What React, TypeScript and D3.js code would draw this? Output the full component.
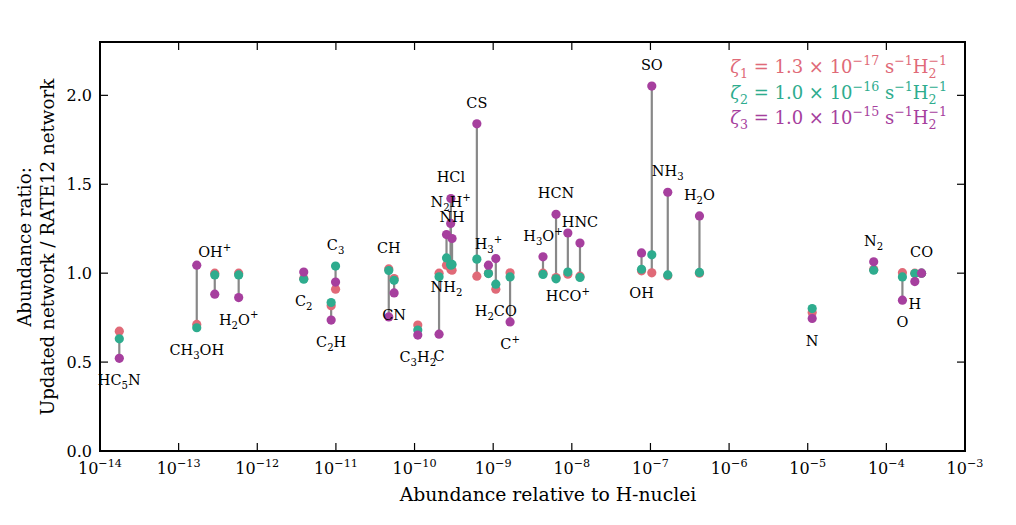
import React from 'react';
import * as d3 from 'd3';

// Species (sub/superscripts written as _x / ^x)
const speciesNames = [
  'HC_5N', 'CH_3OH', 'OH^+', 'H_2O^+', 'C_2', 'C_2H', 'C_3', 'CH', 'CN', 'C_3H_2',
  'C', 'NH_2', 'N_2H^+', 'HCl', 'NH', 'CS', 'H_3^+', 'H_2CO', 'C^+', 'H_3O^+',
  'HCN', 'HCO^+', 'HNC', 'OH', 'SO', 'NH_3', 'H_2O', 'N', 'N_2', 'O', 'H', 'CO',
];

// Abundance relative to H-nuclei
const abundances = [
  1.76e-14, 1.7e-13, 2.88e-13, 5.8e-13, 3.9e-12, 8.7e-12, 9.9e-12, 4.7e-11, 5.5e-11, 1.1e-10,
  2.05e-10, 2.55e-10, 2.88e-10, 2.9e-10, 3.0e-10, 6.2e-10, 8.7e-10, 1.08e-9, 1.64e-9, 4.3e-9,
  6.3e-9, 8.9e-9, 1.27e-8, 7.7e-8, 1.04e-7, 1.66e-7, 4.2e-7, 1.14e-5, 6.9e-5, 1.6e-4, 2.3e-4, 2.8e-4,
];

// Abundance ratio (updated / RATE12) for each ionisation rate
const ratioZeta1 = [
  0.674, 0.712, 1.0, 1.0, 0.97, 0.817, 0.91, 1.024, 0.97, 0.708,
  1.0, 1.045, 1.03, 1.02, 1.017, 0.983, 1.0, 0.91, 1.002, 1.0,
  0.975, 0.994, 0.983, 1.013, 1.002, 0.985, 1.0, 0.779, 1.02, 1.003, 1.0, 1.0,
];
const ratioZeta2 = [
  0.631, 0.693, 0.99, 0.99, 0.966, 0.835, 1.04, 1.015, 0.96, 0.68,
  0.98, 1.086, 1.05, 1.045, 1.049, 1.079, 0.998, 0.938, 0.979, 0.993,
  0.968, 1.006, 0.976, 1.022, 1.103, 0.99, 1.004, 0.801, 1.017, 0.979, 0.998, 1.0,
];
const ratioZeta3 = [
  0.521, 1.045, 0.882, 0.863, 1.006, 0.736, 0.95, 0.754, 0.889, 0.652,
  0.657, 1.217, 1.28, 1.42, 1.195, 1.84, 1.045, 1.082, 0.726, 1.092,
  1.331, 1.226, 1.169, 1.114, 2.052, 1.455, 1.322, 0.745, 1.064, 0.848, 0.953, 1.0,
];

// Which side of its column each species name sits on
const labelSides = [
  'below', 'below', 'above', 'below', 'below', 'below', 'above', 'above', 'below', 'below',
  'below', 'below', 'above', 'above', 'above', 'above', 'above', 'below', 'below', 'above',
  'above', 'below', 'above', 'below', 'above', 'above', 'above', 'below', 'above', 'below', 'below', 'above',
];

const yTicks = [0, 0.5, 1.0, 1.5, 2.0];
const xTickExponents = [-14, -13, -12, -11, -10, -9, -8, -7, -6, -5, -4, -3];

const legendRates = ['1.3', '1.0', '1.0'];
const legendExponents = ['−17', '−16', '−15'];

const COLORS = ['#e06a78', '#2eac8e', '#a63f9e'];
const FONT = '"DejaVu Serif", serif';

const W = 1016;
const H = 525;
const plot = { left: 100, right: 965, top: 42, bottom: 451 };

const x = d3.scaleLog().domain([1e-14, 1e-3]).range([plot.left, plot.right]);
const y = d3.scaleLinear().domain([0, 2.3]).range([plot.bottom, plot.top]);

// Turn "H_2O^+" style markup into tspans; stack a superscript over a preceding subscript if asked
function rich(s: string, size: number, stack = false) {
  const parts: { t: string; k: 'n' | 'b' | 'p' }[] = [];
  let i = 0;
  let buf = '';
  while (i < s.length) {
    const c = s[i];
    if (c === '_' || c === '^') {
      if (buf) {
        parts.push({ t: buf, k: 'n' });
        buf = '';
      }
      let t: string;
      if (s[i + 1] === '{') {
        const j = s.indexOf('}', i + 2);
        t = s.slice(i + 2, j);
        i = j + 1;
      } else {
        t = s[i + 1];
        i += 2;
      }
      parts.push({ t, k: c === '_' ? 'b' : 'p' });
    } else {
      buf += c;
      i++;
    }
  }
  if (buf) parts.push({ t: buf, k: 'n' });
  let cur = 0;
  return parts.map((p, idx) => {
    const target = p.k === 'b' ? size * 0.28 : p.k === 'p' ? -size * 0.42 : 0;
    const dy = target - cur;
    cur = target;
    let dx = 0;
    if (stack && p.k === 'p' && idx > 0 && parts[idx - 1].k === 'b') {
      dx = -parts[idx - 1].t.length * size * 0.7 * 0.636;
    }
    return (
      <tspan key={idx} dy={dy} dx={dx || undefined} fontSize={p.k === 'n' ? size : size * 0.7}>
        {p.t}
      </tspan>
    );
  });
}

export default function App() {
  const series = [ratioZeta1, ratioZeta2, ratioZeta3];
  const tick = 8;
  const lg = 18;
  return (
    <svg
      width={W}
      height={H}
      style={{ position: 'absolute', left: 0, top: 0, background: '#fff' }}
      fontFamily={FONT}
    >
      {/* vertical spread between the three rates */}
      {speciesNames.map((_, i) => {
        const vals = series.map((s) => s[i]);
        return (
          <line
            key={`l${i}`}
            x1={x(abundances[i])}
            x2={x(abundances[i])}
            y1={y(d3.min(vals)!)}
            y2={y(d3.max(vals)!)}
            stroke="#888"
            strokeWidth={2.2}
          />
        );
      })}

      {series.map((s, si) =>
        s.map((v, i) => (
          <circle key={`p${si}-${i}`} cx={x(abundances[i])} cy={y(v)} r={4.6} fill={COLORS[si]} />
        ))
      )}

      {/* species names */}
      {speciesNames.map((name, i) => {
        const vals = series.map((s) => s[i]);
        const above = labelSides[i] === 'above';
        const cy = above ? y(d3.max(vals)!) - 21 : y(d3.min(vals)!) + 22;
        return (
          <text key={`t${i}`} x={x(abundances[i])} y={cy + 5} textAnchor="middle" fontSize={14.5} fill="#000">
            {rich(name, 14.5)}
          </text>
        );
      })}

      {/* frame */}
      <rect
        x={plot.left}
        y={plot.top}
        width={plot.right - plot.left}
        height={plot.bottom - plot.top}
        fill="none"
        stroke="#000"
        strokeWidth={2}
      />

      {/* x ticks */}
      {xTickExponents.map((e) => {
        const px = x(Math.pow(10, e));
        return (
          <g key={`xt${e}`}>
            <line x1={px} x2={px} y1={plot.bottom} y2={plot.bottom - tick} stroke="#000" strokeWidth={1.2} />
            <line x1={px} x2={px} y1={plot.top} y2={plot.top + tick} stroke="#000" strokeWidth={1.2} />
            <text x={px} y={474} textAnchor="middle" fontSize={16} fill="#000">
              {rich(`10^{−${Math.abs(e)}}`, 16)}
            </text>
          </g>
        );
      })}

      {/* y ticks */}
      {yTicks.map((t) => {
        const py = y(t);
        return (
          <g key={`yt${t}`}>
            <line x1={plot.left} x2={plot.left + tick} y1={py} y2={py} stroke="#000" strokeWidth={1.2} />
            <line x1={plot.right} x2={plot.right - tick} y1={py} y2={py} stroke="#000" strokeWidth={1.2} />
            <text x={92} y={py + 6} textAnchor="end" fontSize={16} fill="#000">
              {t.toFixed(1)}
            </text>
          </g>
        );
      })}

      {/* axis titles */}
      <text x={548} y={501} textAnchor="middle" fontSize={18.8} fill="#000">
        Abundance relative to H-nuclei
      </text>
      <g transform={`translate(25, 247) rotate(-90)`}>
        <text x={0} y={6} textAnchor="middle" fontSize={18.3} fill="#000">
          Abundance ratio:
        </text>
        <text x={0} y={29} textAnchor="middle" fontSize={18.3} fill="#000">
          Updated network / RATE12 network
        </text>
      </g>

      {/* legend */}
      {legendRates.map((r, i) => (
        <text key={`lg${i}`} x={947} y={73 + i * 25.5} textAnchor="end" fontSize={lg} fill={COLORS[i]}>
          <tspan fontStyle="italic">ζ</tspan>
          {rich(`_${i + 1}`, lg)}
          <tspan dy={-lg * 0.28}>{` = ${r} × 10`}</tspan>
          {rich(`^{${legendExponents[i]}}`, lg)}
          <tspan dy={lg * 0.42}>{' s'}</tspan>
          {rich('^{−1}', lg)}
          <tspan dy={lg * 0.42}>H</tspan>
          {rich('_{2}^{−1}', lg, true)}
        </text>
      ))}
    </svg>
  );
}
